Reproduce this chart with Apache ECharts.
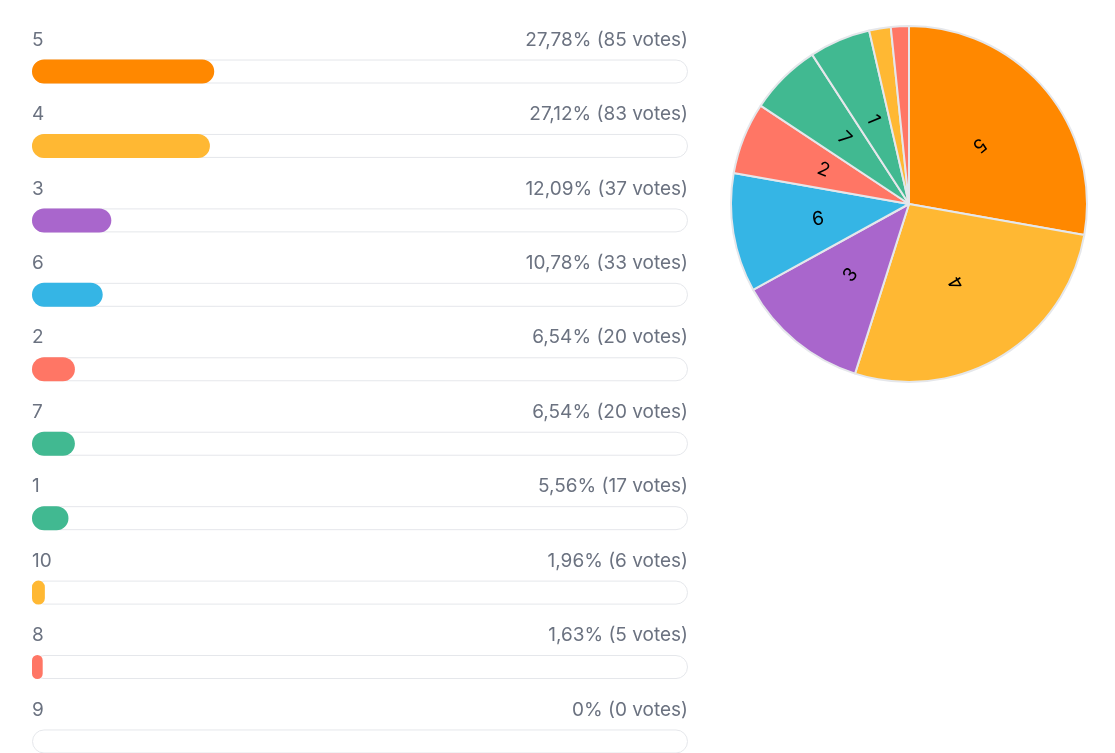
<!DOCTYPE html>
<html>
<head>
<meta charset="utf-8">
<script src="https://cdn.jsdelivr.net/npm/echarts@6/dist/echarts.min.js"></script>
<style>
html,body{margin:0;padding:0;background:#fff;overflow:hidden;}
#chart{width:1115px;height:800px;}
</style>
</head>
<body>
<div id="chart"></div>
<script>
const categories = ['5','4','3','6','2','7','1','10','8','9'];
const votes = [85, 83, 37, 33, 20, 20, 17, 6, 5, 0];
const percents = [27.78, 27.12, 12.09, 10.78, 6.54, 6.54, 5.56, 1.96, 1.63, 0];
const colors = ['#FF8800','#FFB833','#A966CC','#35B5E5','#FF7665','#41B991','#41B991','#FFB833','#FF7665','#A966CC'];
const axisMax = 100;

const FONT = 'Inter, "Noto Sans", sans-serif';
const TEXT = '#6b7280';

function fmtPct(p){ return (p === 0 ? '0' : p.toFixed(2).replace('.', ',')) + '%'; }

const total = votes.reduce((a,b)=>a+b,0);
let cum = 0;
const pieData = categories.map((c,i)=>{
  const v = votes[i];
  const mid = (cum + v/2) / total * 360; // clockwise from top
  cum += v;
  let rot = -(mid + 90);
  while (rot <= -180) rot += 360;
  while (rot > 180) rot -= 360;
  return {
    name: c, value: v,
    itemStyle: {color: colors[i]},
    label: {show: v / total > 0.03, rotate: rot}
  };
});

const chart = echarts.init(document.getElementById('chart'), null, {renderer:'canvas'});
chart.setOption({
  animation: false,
  grid: {left: 32, width: 656, top: 34.3, height: 744.4},
  xAxis: {type:'value', min:0, max:axisMax, show:false},
  yAxis: {type:'category', data: categories, inverse:true, show:false},
  series: [
    {
      type:'bar', silent:true, barWidth:24, z:1,
      data: categories.map(()=>axisMax),
      itemStyle: {color:'#ffffff', borderColor:'#e5e7eb', borderWidth:1, borderRadius:12},
      label: {
        show:true, position:['100%', -19.5], align:'right', verticalAlign:'middle',
        fontFamily:FONT, fontSize:19, color:TEXT,
        formatter: p => fmtPct(percents[p.dataIndex]) + ' (' + votes[p.dataIndex] + ' votes)'
      },
      labelLayout: {hideOverlap:false}
    },
    {
      type:'bar', silent:true, barWidth:24, barGap:'-100%', z:2,
      data: percents.map((v,i)=>({value:v, itemStyle:{color:colors[i]}})),
      itemStyle: {borderRadius:12},
      label: {
        show:true, position:[0, -19.5], align:'left', verticalAlign:'middle',
        fontFamily:FONT, fontSize:19, color:TEXT,
        formatter: p => categories[p.dataIndex]
      }
    },
    {
      type:'pie', center:[909, 204], radius:[0, 178], startAngle:90, clockwise:true,
      silent:true, avoidLabelOverlap:false,
      itemStyle: {borderColor:'#e5e7eb', borderWidth:2},
      label: {position:'inside', formatter:'{b}', fontFamily:FONT, fontSize:19, color:'#000'},
      labelLine: {show:false},
      data: pieData
    }
  ]
});
</script>
</body>
</html>
